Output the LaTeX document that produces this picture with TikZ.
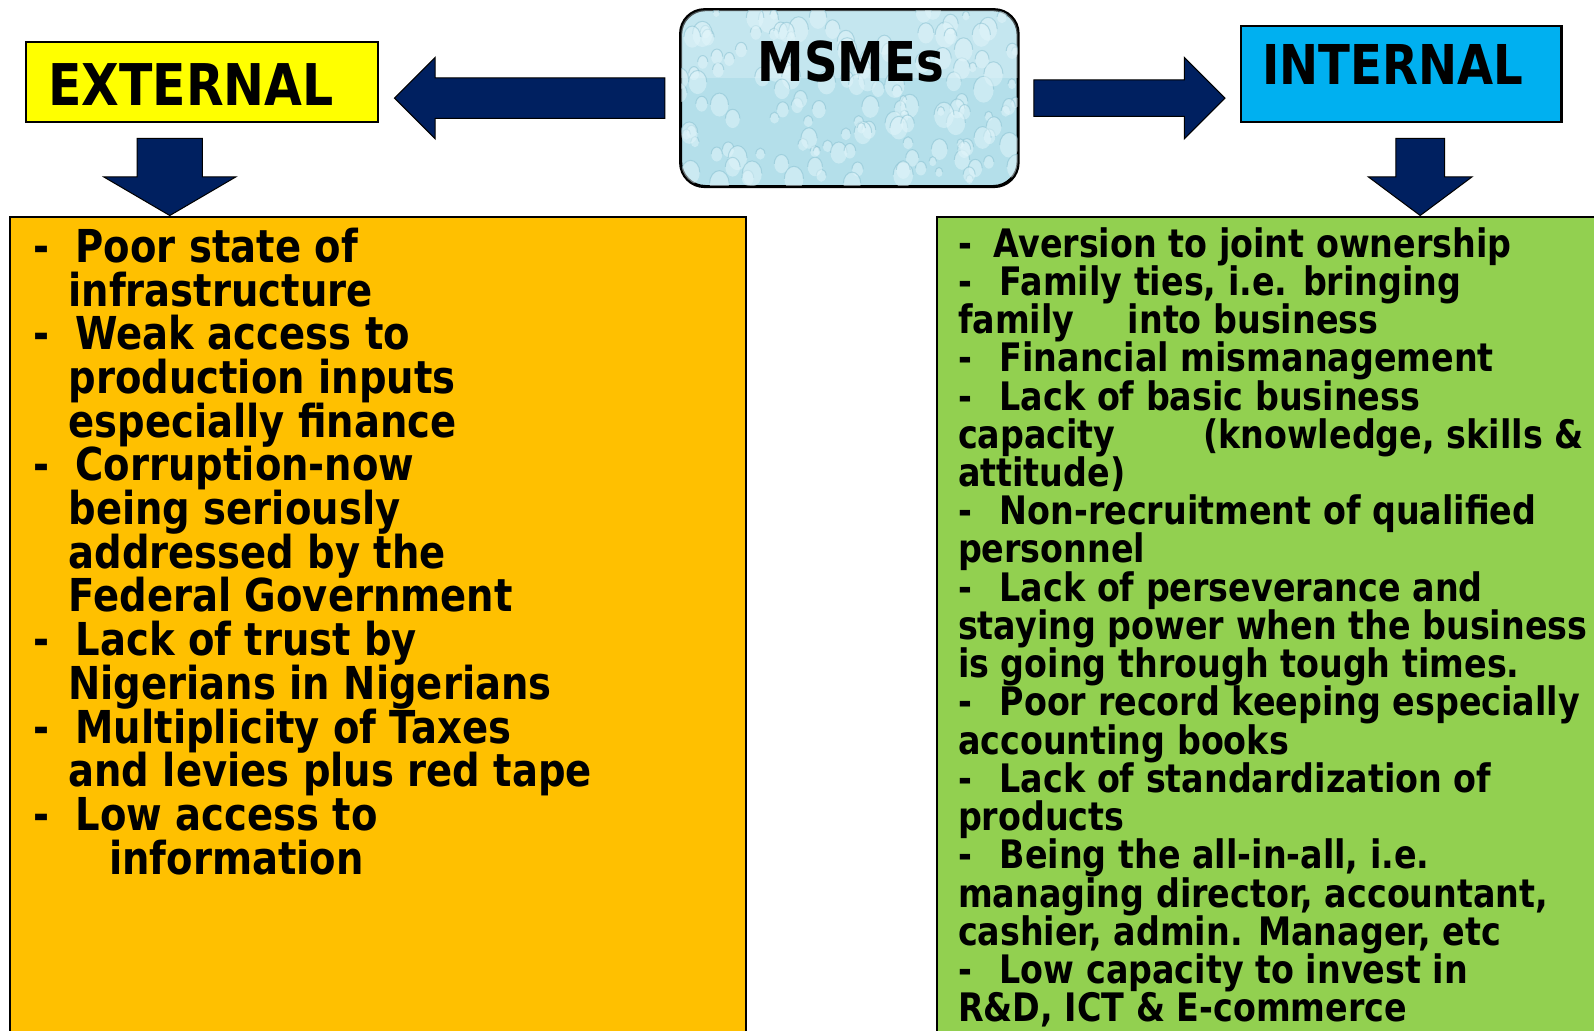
\documentclass[tikz,border=0pt]{standalone}
\usepackage{fontspec}
\setmainfont{DejaVu Sans}[FakeStretch=0.85]
\usetikzlibrary{calc}
\definecolor{navyarrow}{HTML}{002060}
\definecolor{extyellow}{HTML}{FFFF00}
\definecolor{extorange}{HTML}{FFC000}
\definecolor{intgreen}{HTML}{92D050}
\definecolor{intcyan}{HTML}{00B0F0}
\definecolor{waterbase}{HTML}{B4DFEA}
\definecolor{waterhi}{HTML}{E2F5FA}
\definecolor{waterlo}{HTML}{7DB9CB}
\newcommand{\exdash}[1]{\hbox{\makebox[20.5pt][l]{-}#1}}
\newcommand{\exind}[1]{\hbox{\hspace*{17pt}#1}}
\newcommand{\indash}[1]{\hbox{\makebox[20.5pt][l]{-}#1}}
\newcommand{\inline}[1]{\hbox{#1}}
\tikzset{
  framebox/.style={draw=black, line width=1pt, inner sep=0pt},
  blockarrow/.style={fill=navyarrow, draw=black, line width=0.5pt, line join=miter},
  titletext/.style={anchor=base west, inner sep=0pt, font=\bfseries},
  listtext/.style={anchor=base west, inner sep=0pt, align=left}
}
\begin{document}
\begin{tikzpicture}[x=0.5pt,y=-0.5pt]
\useasboundingbox (0,0) rectangle (1568,1014);

% boxes
\node[framebox, fill=extyellow, minimum width=173pt, minimum height=39.5pt] (ext) at (199,80.5) {};
\node[framebox, fill=intcyan, minimum width=157.5pt, minimum height=47pt] (int) at (1378.5,73) {};
\node[framebox, fill=waterbase, rounded corners=12pt, minimum width=165.5pt, minimum height=86.5pt] (msme) at (835.5,96.5) {};
\node[framebox, fill=extorange, minimum width=362pt, minimum height=408.5pt] (exto) at (372,621.5) {};
\node[framebox, fill=intgreen, minimum width=334pt, minimum height=408.5pt] (into) at (1256,621.5) {};

% water droplet texture
\begin{scope}
  \clip[rounded corners=12pt] (msme.north west) rectangle (msme.south east);
  \fill[waterhi, opacity=0.35] ($(msme.north west)+(0,0)$) rectangle ($(msme.east)+(0,-20)$);
  \pgfmathsetseed{11}
  \foreach \i in {1,...,150}{
    \pgfmathsetmacro\px{835.5+168*rand}
    \pgfmathsetmacro\py{96.5+88*rand}
    \pgfmathsetmacro\rr{3+7*abs(rand)}
    \fill[waterhi, opacity=0.5] (\px,\py) ellipse[x radius=\rr, y radius=1.3*\rr];
    \draw[waterlo, opacity=0.45, line width=0.5pt] ($(\px,\py)+(-\rr,0)$) arc[start angle=180, end angle=360, x radius=\rr, y radius=1.3*\rr];
  }
\end{scope}
\draw[line width=1pt, rounded corners=12pt] (msme.north west) rectangle (msme.south east);

% titles
\node[titletext, font=\bfseries\fontsize{28.3pt}{30pt}\selectfont] (extlabel) at (47,104) {EXTERNAL};
\node[titletext, font=\bfseries\fontsize{27pt}{30pt}\selectfont] (msmelabel) at (745,80) {MSMEs};
\node[titletext, font=\bfseries\fontsize{27pt}{30pt}\selectfont] (intlabel) at (1241,83) {INTERNAL};

% left arrow (MSMEs -> EXTERNAL)
\coordinate (LT) at ($(ext.east |- msme.west)+(15,0)$);
\coordinate (LE) at ($(msme.west)+(-15,0)$);
\draw[blockarrow] (LT) -- ($(LT)+(40,-40)$) -- ($(LT)+(40,-20)$) -- ($(LE)+(0,-20)$)
  -- ($(LE)+(0,20)$) -- ($(LT)+(40,20)$) -- ($(LT)+(40,40)$) -- cycle;

% right arrow (MSMEs -> INTERNAL)
\coordinate (RS) at ($(msme.east)+(15,0)$);
\coordinate (RT) at ($(int.west |- msme.east)+(-15,0)$);
\draw[blockarrow] ($(RS)+(0,-18)$) -- ($(RT)+(-40,-18)$) -- ($(RT)+(-40,-40)$) -- (RT)
  -- ($(RT)+(-40,40)$) -- ($(RT)+(-40,18)$) -- ($(RS)+(0,18)$) -- cycle;

% down arrow left (EXTERNAL -> list)
\coordinate (DLS) at ($(ext.south)+(-32,15)$);
\coordinate (DLT) at (DLS |- exto.north);
\draw[blockarrow] ($(DLS)+(-32,0)$) -- ($(DLS)+(32,0)$) -- ($(DLT)+(32,-38)$) -- ($(DLT)+(65,-38)$)
  -- (DLT) -- ($(DLT)+(-65,-38)$) -- ($(DLT)+(-32,-38)$) -- cycle;

% down arrow right (INTERNAL -> list)
\coordinate (DRS) at ($(int.south)+(18.5,15)$);
\coordinate (DRT) at (DRS |- into.north);
\draw[blockarrow] ($(DRS)+(-24,0)$) -- ($(DRS)+(24,0)$) -- ($(DRT)+(24,-38)$) -- ($(DRT)+(51,-38)$)
  -- (DRT) -- ($(DRT)+(-51,-38)$) -- ($(DRT)+(-24,-38)$) -- cycle;

% external list
\node[listtext] (extlist) at (33,258) {\bfseries\fontsize{22.3pt}{21.5pt}\selectfont\vtop{\baselineskip=21.5pt\lineskiplimit=-100pt\lineskip=0pt
  \exdash{Poor state of}
  \exind{infrastructure}
  \exdash{Weak access to}
  \exind{production inputs}
  \exind{especially finance}
  \exdash{Corruption-now}
  \exind{being seriously}
  \exind{addressed by the}
  \exind{Federal Government}
  \exdash{Lack of trust by}
  \exind{Nigerians in Nigerians}
  \exdash{Multiplicity of Taxes}
  \exind{and levies plus red tape}
  \exdash{Low access to}
  \hbox{\hspace*{37pt}information}}};

% internal list
\node[listtext] (intlist) at (942,253) {\bfseries\fontsize{19.3pt}{18.8pt}\selectfont\vtop{\baselineskip=18.8pt\lineskiplimit=-100pt\lineskip=0pt
  \hbox{\makebox[17.5pt][l]{-}Aversion to joint ownership}
  \indash{Family ties, i.e. bringing}
  \inline{\makebox[83.5pt][l]{family}into business}
  \indash{Financial mismanagement}
  \indash{Lack of basic business}
  \inline{\makebox[120.5pt][l]{capacity}(knowledge, skills \&}
  \inline{attitude)}
  \indash{Non-recruitment of qualified}
  \inline{personnel}
  \indash{Lack of perseverance and}
  \inline{staying power when the business}
  \inline{is going through tough times.}
  \indash{Poor record keeping especially}
  \inline{accounting books}
  \indash{Lack of standardization of}
  \inline{products}
  \indash{Being the all-in-all, i.e.}
  \inline{managing director, accountant,}
  \inline{cashier, admin. Manager, etc}
  \indash{Low capacity to invest in}
  \inline{R\&D, ICT \& E-commerce}}};
\end{tikzpicture}
\end{document}
